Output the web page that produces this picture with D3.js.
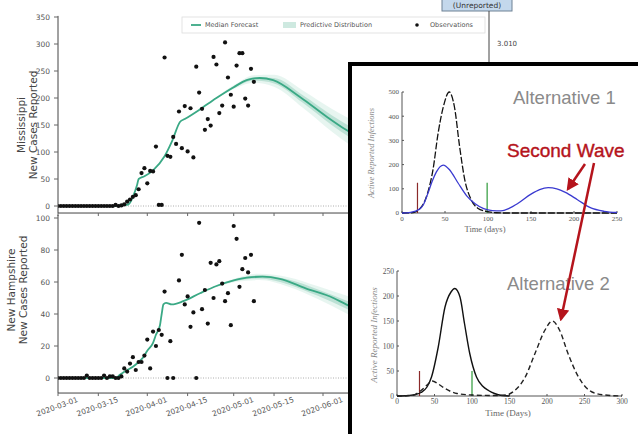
<!DOCTYPE html>
<html>
<head>
<meta charset="utf-8">
<script src="https://d3js.org/d3.v7.min.js"></script>
<style>
  body { margin: 0; background: #fff; }
  svg { display: block; font-family: "DejaVu Sans", sans-serif; }
</style>
</head>
<body>
<svg id="chart" width="638" height="434"></svg>
<script>
// ---- data ----
const tickDates = ["2020-03-01", "2020-03-15", "2020-04-01", "2020-04-15", "2020-05-01", "2020-05-15", "2020-06-01"];

// Mississippi observations (days since 2020-03-01)
const msObsDays = [0,1,2,3,4,5,6,7,8,9,10,11,12,13,14,15,16,17,18,19,20,21,22,23,24,25,26,27,28,29,30,31,32,33,34,35,36,37,38,39,40,41,42,43,44,45,46,47,48,49,50,51,52,53,54,55,56,57,58,59,60,61,62,63,64,65,66,67,68];
const msObsVals = [0,0,0,0,0,0,0,0,0,0,0,0,0,0,0,0,0,0,0,0,2,0,1,3,8,12,17,20,31,61,70,42,65,64,110,2,2,275,93,91,128,115,175,107,185,101,181,90,258,210,180,141,161,149,276,262,172,186,303,238,206,184,260,283,283,199,186,254,230];
const msMedDays = [0, 20, 22, 23, 24, 25, 26, 27.5, 28, 30, 33, 37, 39.6, 42.4, 44, 49, 55, 61, 65.5, 70, 74.7, 84, 93.4, 100, 106];
const msMedVals = [0, 0, 2, 3, 2, 6, 17, 40, 50, 55, 66, 92, 120, 156, 161, 178, 200, 220, 233, 237, 233, 202, 165, 141, 122];
const msBandDays = [55, 62, 68, 75, 85, 95, 106];
const msBandInner = [1, 2, 3, 5, 7, 9, 11];
const msBandOuter = [2, 4, 7, 11, 16, 21, 26];

// New Hampshire observations
const nhObsDays = [0,1,2,3,4,5,6,7,8,9,10,11,12,13,14,15,16,17,18,19,20,21,22,23,24,25,26,27,28,29,30,31,32,33,34,35,36,37,38,39,40,42,43,44,45,46,47,48,49,50,51,52,53,54,55,56,57,58,59,60,61,62,63,64,65,66,67,68];
const nhObsVals = [0,0,0,0,0,0,0,0,0,0,1.5,0,0,0,0,0,1.5,0,1,1,0,0,1,6,4,9,13,5,10,10,14,24,6,29,20,30,27,54,0,23,0,61,77,46,51,32,41,0,97,43,55,34,72,50,71,73,59,48,53,33,95,87,57,68,75,66,77,48];
const nhMedDays = [0, 20, 21.5, 24, 26, 28, 29.6, 31, 33, 34, 35.4, 36, 36.6, 37.5, 39.5, 43.5, 49.3, 55, 61, 65.5, 71, 77, 86, 95.6, 100, 106];
const nhMedVals = [0, 0, 2, 5, 7, 10, 13, 17, 22, 27, 33, 40, 46, 47, 46, 48, 53, 57.5, 61, 62.7, 63.3, 62, 56, 50, 46, 41];
const nhBandDays = [55, 62, 70, 80, 90, 100, 106];
const nhBandInner = [0.3, 0.6, 1, 1.5, 2, 2.5, 3];
const nhBandOuter = [0.6, 1.2, 2, 3, 4, 5.5, 6.5];

// Inset: Alternative 1
const alt1Ticks = [0, 50, 100, 150, 200, 250];
const alt1YTicks = [0, 100, 200, 300, 400, 500];
const alt1BlackDays = [0, 10, 15, 20, 25, 30, 36, 42, 48, 55, 61, 67, 73, 80, 88, 98, 110, 120, 250];
const alt1BlackVals = [0, 1, 4, 15, 38, 85, 178, 330, 438, 500, 438, 274, 137, 58, 20, 7, 1, 0, 0];
const alt1BlueDays = [0, 10, 20, 25, 30, 35, 40, 48, 55, 65, 75, 85, 95, 105, 115, 125, 135, 150, 160, 170, 180, 190, 204, 219, 235, 250];
const alt1BlueVals = [0, 3, 15, 35, 80, 130, 170, 198, 180, 125, 72, 38, 18, 10, 9, 20, 40, 78, 97, 105, 100, 85, 55, 22, 7, 2];
const alt1Marks = [18, 99];

// Inset: Alternative 2
const alt2Ticks = [0, 50, 100, 150, 200, 250, 300];
const alt2YTicks = [0, 50, 100, 150, 200, 250];
const alt2SolidDays = [0, 15, 25, 32, 40, 46, 55, 64, 72, 77, 84, 90, 97, 106, 114, 122, 130, 140, 150];
const alt2SolidVals = [0, 1, 3, 7, 18, 38, 98, 178, 208, 215, 198, 145, 85, 38, 20, 11, 5, 1, 0];
const alt2DashDays = [0, 20, 32, 40, 47, 55, 64, 80, 100, 130, 145, 157, 171, 184, 197, 207, 217, 228, 242, 252, 260, 277, 300];
const alt2DashVals = [0, 1, 11, 22, 30, 24, 15, 5, 2, 1, 2, 11, 38, 85, 131, 150, 131, 85, 38, 17, 8, 2, 0];
const alt2Marks = [30, 100];

// ---- drawing ----
const svg = d3.select("#chart");
const parse = d3.timeParse("%Y-%m-%d");
const start = parse("2020-03-01");
const day = (d) => d3.timeDay.offset(start, Math.floor(d)).getTime() + (d % 1) * 864e5;
const green = "#3aa985";

const x = d3.scaleTime().domain([start, parse("2020-06-01")]).range([58, 323]);

const panels = [
  { obsD: msObsDays, obsV: msObsVals, medD: msMedDays, medV: msMedVals, bD: msBandDays, bIn: msBandInner, bOut: msBandOuter,
    y: d3.scaleLinear().domain([0, 350]).range([206, 17]), yMin: -13, yMax: 352, ticks: [0, 50, 100, 150, 200, 250, 300, 350],
    labels: ["Mississippi", "New Cases Reported"], labX: 25, labY: 125, showX: false },
  { obsD: nhObsDays, obsV: nhObsVals, medD: nhMedDays, medV: nhMedVals, bD: nhBandDays, bIn: nhBandInner, bOut: nhBandOuter,
    y: d3.scaleLinear().domain([0, 100]).range([378, 218]), yMin: -9.4, yMax: 102, ticks: [0, 20, 40, 60, 80, 100],
    labels: ["New Hampshire", "New Cases Reported"], labX: 15, labY: 290, showX: true },
];

svg.append("defs").append("clipPath").attr("id", "clip")
  .append("rect").attr("x", 58).attr("y", 0).attr("width", 292).attr("height", 434);

function valAt(p, d) {
  const i = d3.bisectLeft(p.medD, d);
  if (p.medD[i] === d) return p.medV[i];
  const t = (d - p.medD[i - 1]) / (p.medD[i] - p.medD[i - 1]);
  return p.medV[i - 1] + t * (p.medV[i] - p.medV[i - 1]);
}

panels.forEach((p) => {
  const g = svg.append("g");
  const plot = g.append("g").attr("clip-path", "url(#clip)");
  const yb = p.y(p.yMin);

  // zero line
  plot.append("line").attr("x1", 58).attr("x2", 350).attr("y1", p.y(0)).attr("y2", p.y(0))
    .attr("stroke", "#999").attr("stroke-width", 0.8).attr("stroke-dasharray", "1,1.5");

  // predictive band
  const bandOuter = d3.area().curve(d3.curveMonotoneX)
    .x((d, i) => x(day(p.bD[i])))
    .y0((d, i) => p.y(valAt(p, p.bD[i]) - p.bOut[i]))
    .y1((d, i) => p.y(valAt(p, p.bD[i]) + p.bOut[i]));
  const bandInner = d3.area().curve(d3.curveMonotoneX)
    .x((d, i) => x(day(p.bD[i])))
    .y0((d, i) => p.y(valAt(p, p.bD[i]) - p.bIn[i]))
    .y1((d, i) => p.y(valAt(p, p.bD[i]) + p.bIn[i]));
  plot.append("path").attr("d", bandOuter(p.bD)).attr("fill", green).attr("opacity", 0.12);
  plot.append("path").attr("d", bandInner(p.bD)).attr("fill", green).attr("opacity", 0.25);

  // median
  const line = d3.line().curve(d3.curveMonotoneX)
    .x((d, i) => x(day(p.medD[i]))).y((d, i) => p.y(p.medV[i]));
  plot.append("path").attr("d", line(p.medD)).attr("fill", "none")
    .attr("stroke", green).attr("stroke-width", 1.8);

  // observations
  plot.selectAll("circle").data(p.obsD).enter().append("circle")
    .attr("cx", (d) => x(day(d))).attr("cy", (d, i) => p.y(p.obsV[i])).attr("r", 2.1).attr("fill", "#111");

  // y axis
  g.append("line").attr("x1", 58).attr("x2", 58).attr("y1", p.y(p.yMax)).attr("y2", yb)
    .attr("stroke", "#444").attr("stroke-width", 1);
  p.ticks.forEach((t) => {
    g.append("line").attr("x1", 54).attr("x2", 58).attr("y1", p.y(t)).attr("y2", p.y(t)).attr("stroke", "#666");
    g.append("text").attr("x", 50).attr("y", p.y(t)).attr("dy", "0.35em").attr("text-anchor", "end")
      .attr("font-size", 7.5).attr("fill", "#555").text(t);
  });

  // x axis
  g.append("line").attr("x1", 58).attr("x2", 350).attr("y1", yb).attr("y2", yb)
    .attr("stroke", "#444").attr("stroke-width", 1);
  tickDates.forEach((t) => {
    const tx = x(parse(t));
    g.append("line").attr("x1", tx).attr("x2", tx).attr("y1", yb).attr("y2", yb + 3).attr("stroke", "#666");
    if (p.showX) {
      g.append("text").attr("transform", `translate(${tx},${yb + 16}) rotate(-20)`)
        .attr("text-anchor", "middle").attr("font-size", 7.5).attr("fill", "#555").text(t);
    }
  });

  // axis label
  const lab = g.append("text").attr("transform", `translate(${p.labX},${p.labY}) rotate(-90)`)
    .attr("text-anchor", "middle").attr("font-size", 10.5).attr("fill", "#444");
  lab.append("tspan").attr("x", 0).attr("dy", 0).text(p.labels[0]);
  lab.append("tspan").attr("x", 0).attr("dy", 12).text(p.labels[1]);
});

// legend
const lg = svg.append("g");
lg.append("rect").attr("x", 182).attr("y", 17).attr("width", 303).attr("height", 16)
  .attr("fill", "#fff").attr("stroke", "#ddd").attr("stroke-width", 0.8);
lg.append("line").attr("x1", 191).attr("x2", 201).attr("y1", 25).attr("y2", 25).attr("stroke", green).attr("stroke-width", 1.8);
lg.append("text").attr("x", 205).attr("y", 25).attr("dy", "0.35em").attr("font-size", 6.5).attr("fill", "#555").text("Median Forecast");
lg.append("rect").attr("x", 283).attr("y", 22).attr("width", 13).attr("height", 6).attr("fill", green).attr("opacity", 0.25);
lg.append("text").attr("x", 300).attr("y", 25).attr("dy", "0.35em").attr("font-size", 6.5).attr("fill", "#555").text("Predictive Distribution");
lg.append("circle").attr("cx", 417).attr("cy", 25).attr("r", 1.8).attr("fill", "#111");
lg.append("text").attr("x", 430).attr("y", 25).attr("dy", "0.35em").attr("font-size", 6.5).attr("fill", "#555").text("Observations");

// top-right leftovers
svg.append("rect").attr("x", 442).attr("y", -2).attr("width", 70).attr("height", 13)
  .attr("fill", "#c4d8ec").attr("stroke", "#6f8295").attr("stroke-width", 1);
svg.append("text").attr("x", 477).attr("y", 5).attr("dy", "0.35em").attr("text-anchor", "middle")
  .attr("font-size", 7.5).attr("fill", "#333").text("(Unreported)");
svg.append("line").attr("x1", 489).attr("x2", 489).attr("y1", 11).attr("y2", 62).attr("stroke", "#444");
svg.append("text").attr("x", 497).attr("y", 44).attr("dy", "0.35em").attr("font-size", 7)
  .attr("fill", "#444").text("3.010");

// ---- inset ----
svg.append("rect").attr("x", 350).attr("y", 64).attr("width", 300).attr("height", 380)
  .attr("fill", "#fff").attr("stroke", "#000").attr("stroke-width", 4);

function drawInset(o) {
  const g = svg.append("g");
  const xs = d3.scaleLinear().domain(o.xDom).range(o.xRange);
  const ys = d3.scaleLinear().domain(o.yDom).range(o.yRange);
  const serif = "'Liberation Serif', 'DejaVu Serif', serif";
  g.append("line").attr("x1", xs(0)).attr("x2", xs(o.xDom[1])).attr("y1", ys(0)).attr("y2", ys(0)).attr("stroke", "#555");
  g.append("line").attr("x1", xs(0)).attr("x2", xs(0)).attr("y1", ys(0)).attr("y2", ys(o.yDom[1])).attr("stroke", "#555");
  o.xTicks.forEach((t) => {
    g.append("line").attr("x1", xs(t)).attr("x2", xs(t)).attr("y1", ys(0)).attr("y2", ys(0) - 2).attr("stroke", "#555");
    g.append("text").attr("x", xs(t)).attr("y", ys(0) + 8).attr("text-anchor", "middle")
      .attr("font-family", serif).attr("font-size", o.fs).attr("fill", "#555").text(t);
  });
  o.yTicks.forEach((t) => {
    g.append("line").attr("x1", xs(0)).attr("x2", xs(0) + 2).attr("y1", ys(t)).attr("y2", ys(t)).attr("stroke", "#555");
    g.append("text").attr("x", xs(0) - 3).attr("y", ys(t)).attr("dy", "0.35em").attr("text-anchor", "end")
      .attr("font-family", serif).attr("font-size", o.fs).attr("fill", "#555").text(t);
  });
  g.append("text").attr("x", o.xlab[0]).attr("y", o.xlab[1]).attr("text-anchor", "middle")
    .attr("font-family", serif).attr("font-size", o.fs + 1.5).attr("fill", "#666").text(o.xlabText);
  g.append("text").attr("transform", `translate(${o.ylab[0]},${o.ylab[1]}) rotate(-90)`).attr("text-anchor", "middle")
    .attr("font-family", serif).attr("font-style", "italic").attr("font-size", o.lfs).attr("fill", "#888")
    .text("Active Reported Infections");

  o.marks.forEach((m, i) => {
    g.append("line").attr("x1", xs(m)).attr("x2", xs(m)).attr("y1", ys(0)).attr("y2", ys(o.markH))
      .attr("stroke", i === 0 ? "#8b2a2a" : "#2e9a3a").attr("stroke-width", 1.2);
  });

  o.series.forEach((s) => {
    const line = d3.line().curve(d3.curveMonotoneX)
      .x((d, i) => xs(s.d[i])).y((d, i) => ys(s.v[i]));
    g.append("path").attr("d", line(s.d)).attr("fill", "none").attr("stroke", s.c)
      .attr("stroke-width", s.w).attr("stroke-dasharray", s.dash || null);
  });

  g.append("text").attr("x", o.title[0]).attr("y", o.title[1]).attr("font-family", "'Liberation Sans', Arial, sans-serif")
    .attr("font-size", 18.5).attr("fill", "#8a8a8a").text(o.titleText);
}

drawInset({
  xDom: [0, 250], yDom: [0, 500], xRange: [402, 617], yRange: [213, 92],
  xTicks: alt1Ticks, yTicks: alt1YTicks, fs: 7, lfs: 8.5,
  xlab: [485, 232], xlabText: "Time (days)", ylab: [374, 153],
  marks: alt1Marks, markH: 125,
  series: [
    { d: alt1BlackDays, v: alt1BlackVals, c: "#111", w: 1.3, dash: "7,2" },
    { d: alt1BlueDays, v: alt1BlueVals, c: "#3a3ad0", w: 1.3 },
  ],
  title: [513, 104], titleText: "Alternative 1",
});

drawInset({
  xDom: [0, 300], yDom: [0, 250], xRange: [397, 622], yRange: [396, 271],
  xTicks: alt2Ticks, yTicks: alt2YTicks, fs: 7.5, lfs: 9,
  xlab: [508, 416], xlabText: "Time (Days)", ylab: [377, 335],
  marks: alt2Marks, markH: 50,
  series: [
    { d: alt2SolidDays, v: alt2SolidVals, c: "#111", w: 1.4 },
    { d: alt2DashDays, v: alt2DashVals, c: "#222", w: 1.4, dash: "5,3" },
  ],
  title: [507, 290], titleText: "Alternative 2",
});

// second wave callout
const red = "#b5141c";
svg.append("defs").append("marker").attr("id", "head").attr("viewBox", "0 0 10 10")
  .attr("refX", 8).attr("refY", 5).attr("markerWidth", 5).attr("markerHeight", 5).attr("orient", "auto")
  .append("path").attr("d", "M0,0 L10,5 L0,10 z").attr("fill", red);
svg.append("text").attr("x", 507).attr("y", 157).attr("font-family", "'Liberation Sans', Arial, sans-serif")
  .attr("font-size", 19).attr("fill", red).attr("stroke", red).attr("stroke-width", 0.4).text("Second Wave");
svg.append("line").attr("x1", 585).attr("y1", 164).attr("x2", 568).attr("y2", 189)
  .attr("stroke", red).attr("stroke-width", 2.5).attr("marker-end", "url(#head)");
svg.append("line").attr("x1", 594).attr("y1", 163).attr("x2", 561).attr("y2", 319)
  .attr("stroke", red).attr("stroke-width", 2.5).attr("marker-end", "url(#head)");
</script>
</body>
</html>
